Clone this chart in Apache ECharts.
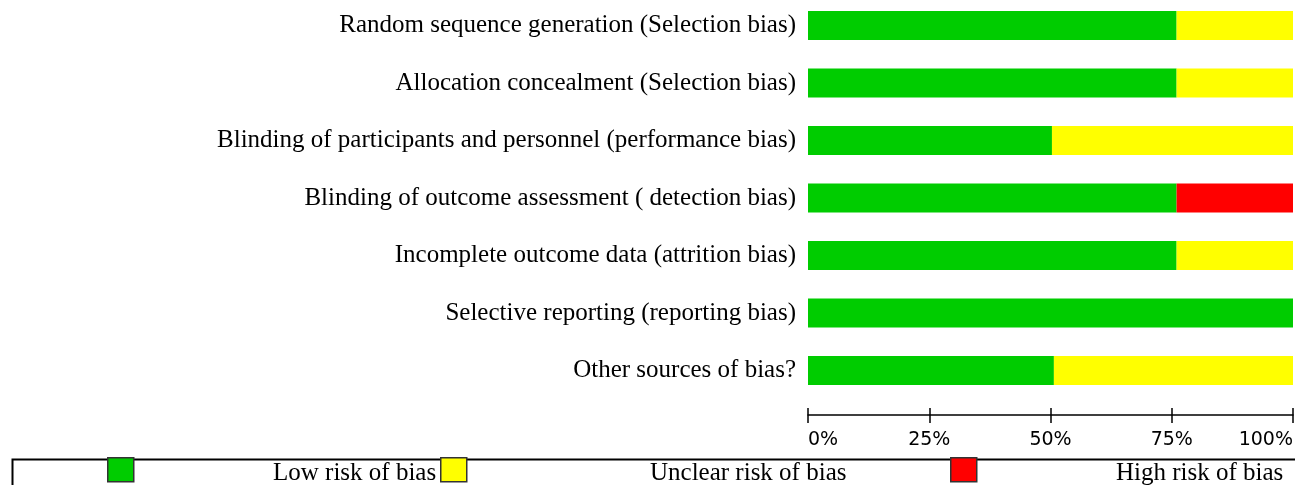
<!DOCTYPE html>
<html>
<head>
<meta charset="utf-8">
<script src="https://cdn.jsdelivr.net/npm/echarts@6/dist/echarts.min.js"></script>
<style>
html,body{margin:0;padding:0;background:#fff;}
#chart{width:1295px;height:485px;}
</style>
</head>
<body>
<div id="chart"></div>
<script>
const categories = [
  'Random sequence generation (Selection bias)',
  'Allocation concealment (Selection bias)',
  'Blinding of participants and personnel (performance bias)',
  'Blinding of outcome assessment ( detection bias)',
  'Incomplete outcome data (attrition bias)',
  'Selective reporting (reporting bias)',
  'Other sources of bias?'
];
const seriesNames = ['Low risk of bias', 'Unclear risk of bias', 'High risk of bias'];
const lowRisk = [76, 76, 50.3, 76, 76, 100, 50.7];
const unclearRisk = [24, 24, 49.7, 0, 24, 0, 49.3];
const highRisk = [0, 0, 0, 24, 0, 0, 0];
const tickLabels = ['0%', '25%', '50%', '75%', '100%'];

const colors = ['#00CC00', '#FFFF00', '#FF0000'];
const values = [lowRisk, unclearRisk, highRisk];
const legendIconX = [107, 440, 950];
const legendTextX = [273, 650, 1116];

const chart = echarts.init(document.getElementById('chart'), null, {renderer: 'canvas'});

const serif = 'Liberation Serif, Times New Roman, serif';

const option = {
  animation: false,
  backgroundColor: '#ffffff',
  grid: {left: 808, right: 2, top: -3.25, height: 402.5, containLabel: false, outerBoundsMode: 'none'},
  xAxis: [
    {
      type: 'value', min: 0, max: 100, interval: 25, position: 'bottom', offset: 8.75,
      axisLine: {show: false},
      axisTick: {show: true, length: 15, lineStyle: {color: '#000', width: 1.5}},
      splitLine: {show: false},
      axisLabel: {
        margin: 23, color: '#000', fontFamily: 'DejaVu Sans', fontSize: 19,
        alignMinLabel: 'left', alignMaxLabel: 'right',
        formatter: function (v) { return tickLabels[Math.round(v / 25)]; }
      }
    },
    {
      type: 'value', min: 0, max: 100, interval: 25, position: 'bottom', offset: 15.75,
      axisLine: {show: true, lineStyle: {color: '#000', width: 1.5}},
      axisTick: {show: false}, axisLabel: {show: false}, splitLine: {show: false}
    }
  ],
  yAxis: {
    type: 'category', data: categories, inverse: true,
    axisLine: {show: false}, axisTick: {show: false}, splitLine: {show: false},
    axisLabel: {margin: 12, color: '#000', fontFamily: serif, fontSize: 25}
  },
  series: seriesNames.map((name, i) => ({
    name: name, type: 'bar', stack: 'risk', xAxisIndex: 0,
    barWidth: 29, data: values[i],
    itemStyle: {color: colors[i]}
  })),
  graphic: [
    {
      type: 'rect', left: 10, top: 457, silent: true,
      shape: {x: 0, y: 0, width: 1300, height: 40},
      style: {fill: 'none', stroke: '#000', lineWidth: 2}
    }
  ].concat(seriesNames.map((name, i) => ({
    type: 'rect', left: legendIconX[i], top: 457,
    shape: {x: 0, y: 0, width: 26, height: 24},
    style: {fill: colors[i], stroke: '#333', lineWidth: 1.5}
  }))).concat(seriesNames.map((name, i) => ({
    type: 'text', left: legendTextX[i], top: 461,
    style: {text: name, font: '25px ' + serif, fill: '#000'}
  })))
};
chart.setOption(option);
</script>
</body>
</html>
